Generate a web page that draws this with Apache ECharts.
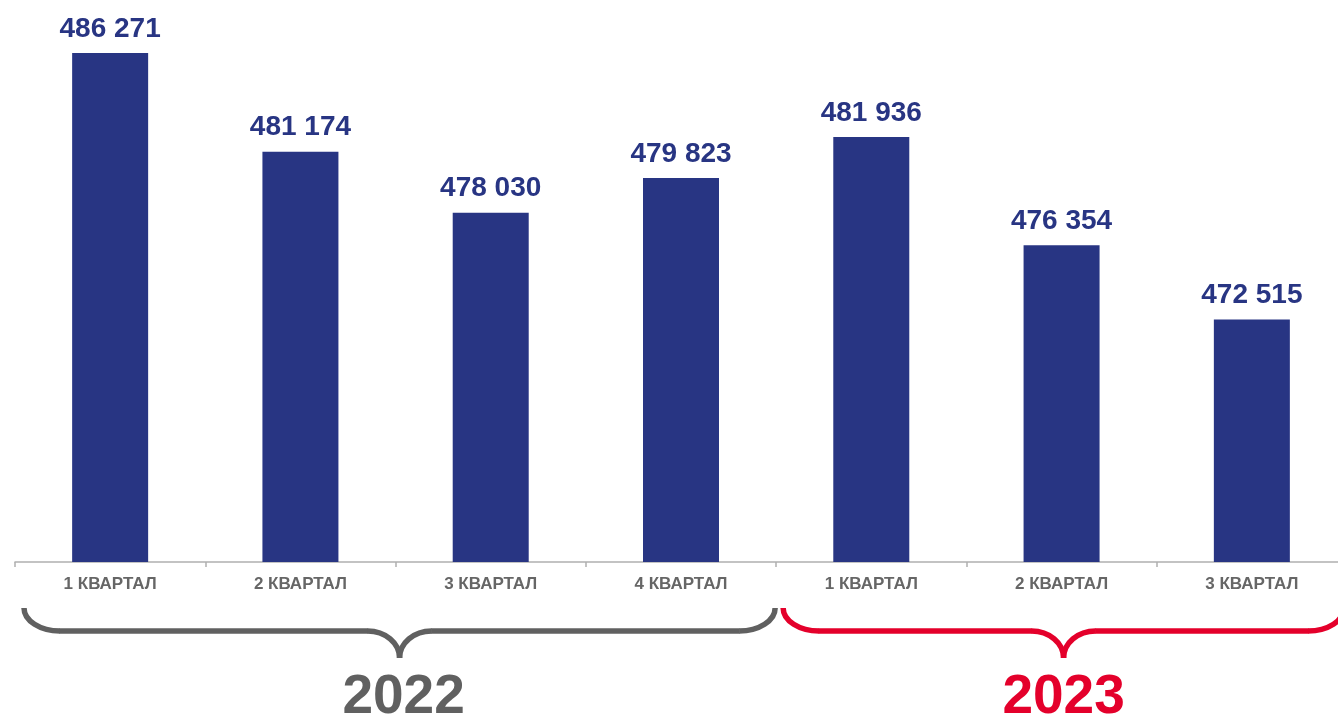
<!DOCTYPE html>
<html><head><meta charset="utf-8">
<script src="https://cdn.jsdelivr.net/npm/echarts@6/dist/echarts.min.js"></script>
<style>html,body{margin:0;padding:0;background:#fff;overflow:hidden;width:1338px;height:720px}#c{width:1348px;height:720px}</style>
</head><body><div id="c"></div>
<script>
const categories = ['1 КВАРТАЛ','2 КВАРТАЛ','3 КВАРТАЛ','4 КВАРТАЛ','1 КВАРТАЛ','2 КВАРТАЛ','3 КВАРТАЛ'];
const values = [486271, 481174, 478030, 479823, 481936, 476354, 472515];
const years = [
  {label:'2022', from:0, to:3, color:'#606060'},
  {label:'2023', from:4, to:6, color:'#e4002b'}
];
const fmt = v => String(v).replace(/\B(?=(\d{3})+(?!\d))/g, ' ');

const chart = echarts.init(document.getElementById('c'));
const option = {
  animation:false,
  grid:{left:15, top:19.5, right:1, bottom:158, containLabel:false},
  xAxis:{type:'category', data:categories, boundaryGap:true,
    axisLine:{lineStyle:{color:'#b0b0b0', width:1.5}},
    axisTick:{show:true, length:5, lineStyle:{color:'#b0b0b0', width:1.5}},
    axisLabel:{color:'#666666', fontFamily:'Liberation Sans, Arial', fontWeight:'bold', fontSize:17, margin:14}
  },
  yAxis:{type:'value', min:460000, max:488000, show:false, splitLine:{show:false}},
  series:[{type:'bar', data:values, barWidth:76, itemStyle:{color:'#283583'},
    label:{show:true, position:'top', distance:10, color:'#283583', fontFamily:'Liberation Sans, Arial', fontWeight:'bold', fontSize:28,
      formatter:p=>fmt(p.value)}}]
};
chart.setOption(option);

const p0 = chart.convertToPixel({xAxisIndex:0}, 0);
const p1 = chart.convertToPixel({xAxisIndex:0}, 1);
const step = p1 - p0;
const graphics = [];
const K = 0.5523;
function brace(x0, x1, yTop, yLine, yTip, color){
  const xm = (x0+x1)/2, rx=36, rm=32;
  const ry = yLine - yTop, rt = yTip - yLine;
  const st = {fill:null, stroke:color, lineWidth:5.5, lineCap:'butt'};
  const els = [];
  els.push({type:'bezierCurve', shape:{x1:x0,y1:yTop,cpx1:x0,cpy1:yTop+K*ry,cpx2:x0+rx-K*rx,cpy2:yLine,x2:x0+rx,y2:yLine}, style:st});
  els.push({type:'line', shape:{x1:x0+rx-0.5,y1:yLine,x2:xm-rm+0.5,y2:yLine}, style:st});
  els.push({type:'bezierCurve', shape:{x1:xm-rm,y1:yLine,cpx1:xm-rm+K*rm,cpy1:yLine,cpx2:xm,cpy2:yTip-K*rt,x2:xm,y2:yTip}, style:st});
  els.push({type:'bezierCurve', shape:{x1:xm+rm,y1:yLine,cpx1:xm+rm-K*rm,cpy1:yLine,cpx2:xm,cpy2:yTip-K*rt,x2:xm,y2:yTip}, style:st});
  els.push({type:'line', shape:{x1:xm+rm-0.5,y1:yLine,x2:x1-rx+0.5,y2:yLine}, style:st});
  els.push({type:'bezierCurve', shape:{x1:x1,y1:yTop,cpx1:x1,cpy1:yTop+K*ry,cpx2:x1-rx+K*rx,cpy2:yLine,x2:x1-rx,y2:yLine}, style:st});
  return els;
}
years.forEach((y,i)=>{
  const left = chart.convertToPixel({xAxisIndex:0}, y.from) - step/2 + (i===0?9:7);
  const right = chart.convertToPixel({xAxisIndex:0}, y.to) + step/2 - (i===0?1:3);
  const xm = (left+right)/2;
  brace(left,right,608,631,658,y.color).forEach(e=>graphics.push(e));
  graphics.push({type:'text', x:xm+(i===0?4:0), y:698, style:{text:y.label, fill:y.color, font:'bold 55px "Liberation Sans", Arial', textAlign:'center', textVerticalAlign:'middle'}});
});
chart.setOption({graphic:{elements:graphics}});
</script></body></html>
